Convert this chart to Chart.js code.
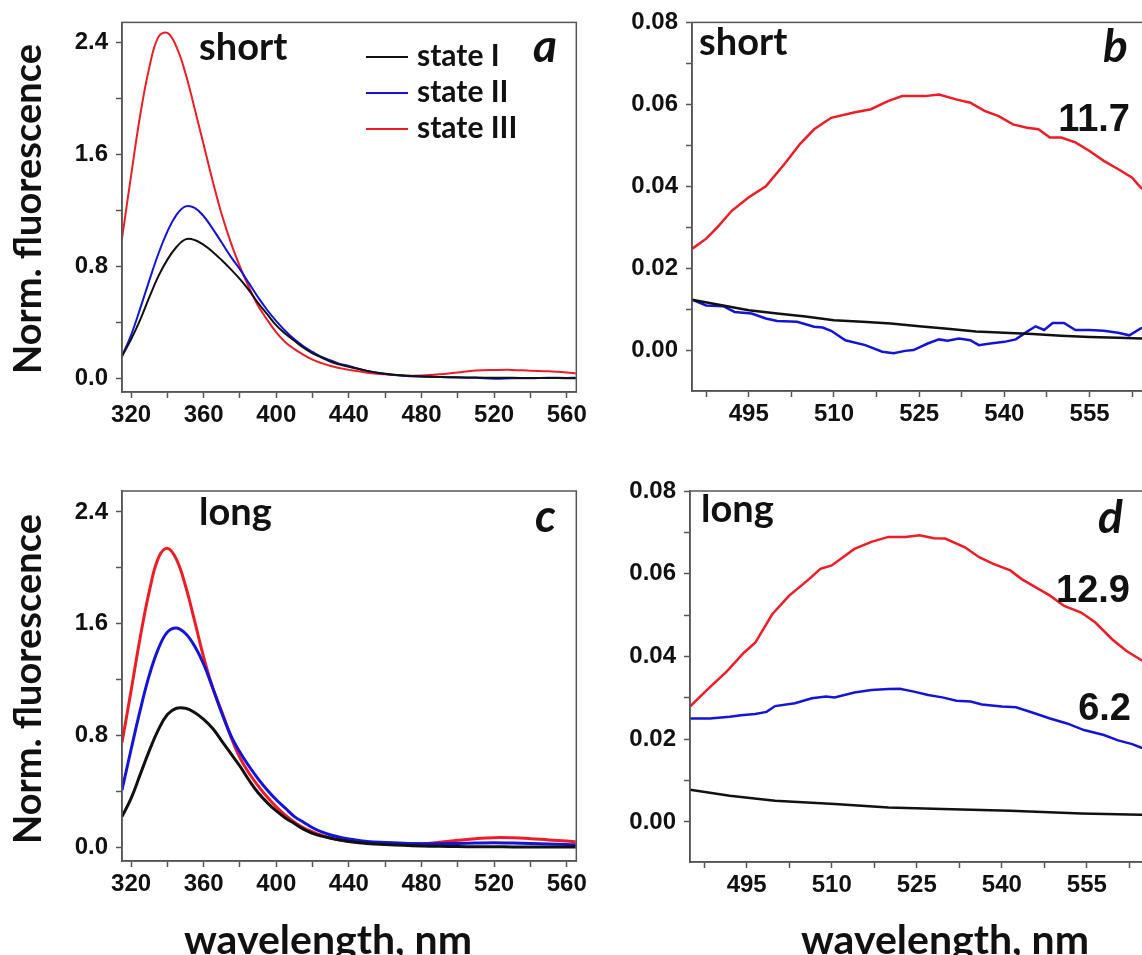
<!DOCTYPE html>
<html lang="en">
<head>
  <meta charset="UTF-8" />
  <title>Fluorescence spectra</title>
  <script src="https://cdn.jsdelivr.net/npm/chart.js"></script>
  <style>
    html, body {
      margin: 0;
      padding: 0;
      background: #fff;
      width: 1142px;
      height: 955px;
      overflow: hidden;
      position: relative;
    }
    canvas {
      position: absolute;
    }
  </style>
</head>
<body>

  <canvas id="chartA" width="590" height="460" style="left:0;top:0;width:590px;height:460px"></canvas>
  <canvas id="chartB" width="570" height="460" style="left:590px;top:0;width:570px;height:460px"></canvas>
  <canvas id="chartC" width="590" height="520" style="left:0;top:460px;width:590px;height:520px"></canvas>
  <canvas id="chartD" width="570" height="520" style="left:590px;top:460px;width:570px;height:520px"></canvas>

<script>
  // ---- data: full spectra (panels a and c) ----
  const waveFull = [315, 320, 325, 330, 335, 340, 345, 350, 355, 360, 365, 370, 375, 380, 385, 390, 395, 400,
    405, 410, 415, 420, 425, 430, 435, 440, 450, 460, 470, 480, 490, 500, 510, 520, 530, 540, 550, 560, 565];

  // short, state I / II / III
  const shortState1 = [0.16, 0.28, 0.42, 0.58, 0.73, 0.85, 0.94, 0.995, 0.99, 0.955, 0.905, 0.845, 0.78, 0.71, 0.63, 0.54, 0.46, 0.38,
    0.32, 0.27, 0.22, 0.18, 0.15, 0.12, 0.10, 0.085, 0.055, 0.035, 0.022, 0.015, 0.011, 0.009, 0.007, 0.0065, 0.005, 0.004, 0.0035, 0.003, 0.003];
  const shortState2 = [0.16, 0.31, 0.50, 0.70, 0.89, 1.05, 1.17, 1.23, 1.22, 1.16, 1.07, 0.97, 0.87, 0.78, 0.68, 0.58, 0.49, 0.41,
    0.34, 0.28, 0.23, 0.19, 0.155, 0.13, 0.105, 0.09, 0.055, 0.033, 0.02, 0.014, 0.011, 0.007, 0.005, -0.001, 0.002, 0.002, 0.006, 0.004, 0.006];
  const shortState3 = [1.00, 1.45, 1.88, 2.22, 2.44, 2.47, 2.37, 2.18, 1.93, 1.67, 1.41, 1.17, 0.97, 0.80, 0.65, 0.52, 0.42, 0.33,
    0.26, 0.21, 0.17, 0.135, 0.11, 0.09, 0.075, 0.062, 0.042, 0.03, 0.022, 0.022, 0.03, 0.044, 0.057, 0.061, 0.062, 0.056, 0.052, 0.044, 0.038];

  // long, state I / II / III
  const longState1 = [0.22, 0.35, 0.52, 0.69, 0.84, 0.95, 0.995, 0.995, 0.965, 0.915, 0.85, 0.76, 0.67, 0.58, 0.48, 0.39, 0.32, 0.26,
    0.21, 0.17, 0.13, 0.10, 0.08, 0.065, 0.052, 0.042, 0.028, 0.02, 0.014, 0.01, 0.0068, 0.0052, 0.0043, 0.0035, 0.003, 0.0027, 0.0022, 0.0018, 0.0017];
  const longState2 = [0.41, 0.70, 0.98, 1.23, 1.42, 1.54, 1.57, 1.53, 1.44, 1.31, 1.14, 0.96, 0.80, 0.68, 0.58, 0.49, 0.41, 0.34,
    0.28, 0.22, 0.18, 0.14, 0.11, 0.088, 0.072, 0.06, 0.042, 0.034, 0.029, 0.026, 0.026, 0.028, 0.030, 0.032, 0.030, 0.028, 0.024, 0.020, 0.018];
  const longState3 = [0.75, 1.12, 1.50, 1.83, 2.07, 2.14, 2.06, 1.87, 1.62, 1.36, 1.14, 0.97, 0.79, 0.64, 0.53, 0.44, 0.36, 0.29,
    0.23, 0.18, 0.14, 0.11, 0.085, 0.066, 0.052, 0.042, 0.03, 0.024, 0.022, 0.025, 0.036, 0.05, 0.062, 0.069, 0.068, 0.062, 0.053, 0.045, 0.040];

  // ---- data: zoomed 485-567 nm (panels b and d) ----
  const bWave1 = [485, 490, 495, 500, 505, 510, 515, 520, 525, 530, 535, 540, 545, 550, 555, 560, 567];
  const bState1 = [0.0123, 0.011, 0.0097, 0.0089, 0.0082, 0.0073, 0.0069, 0.0065, 0.0058, 0.0052, 0.0045, 0.0042, 0.0039, 0.0035, 0.0032, 0.003, 0.0027];
  const bWave2 = [485, 487.5, 490.5, 492.5, 495.5, 498, 500, 503.5, 506.5, 508, 509.5, 512, 515.5, 518.5, 520.5, 522.5, 524, 526.5,
    528.5, 530, 532, 534, 535.5, 537.5, 540, 542, 544, 545.5, 547, 548.5, 550.5, 552.5, 555, 557.5, 560, 562, 564, 567];
  const bState2 = [0.0123, 0.0109, 0.0107, 0.0093, 0.0089, 0.0077, 0.0071, 0.0069, 0.0057, 0.0055, 0.0047, 0.0024, 0.0012, -0.0004, -0.0008, -0.0002, 0.0, 0.0016,
    0.0026, 0.0023, 0.0028, 0.0024, 0.0012, 0.0016, 0.002, 0.0026, 0.0045, 0.0058, 0.0049, 0.0066, 0.0066, 0.0049, 0.0049, 0.0047, 0.0042, 0.0036, 0.0053, 0.0062];
  const bWave3 = [485, 487.5, 489.5, 492, 495, 498, 501.5, 504, 506.5, 509.5, 513.5, 516.5, 519.5, 522, 526, 528.5, 531.5, 534,
    536.5, 539, 541.5, 544, 546, 548, 550, 552.5, 555, 557.5, 560, 562.5, 564, 567];
  const bState3 = [0.0247, 0.0272, 0.030, 0.034, 0.0373, 0.040, 0.0458, 0.0503, 0.0539, 0.0567, 0.058, 0.0588, 0.0608, 0.062, 0.062, 0.0624, 0.0612, 0.0604,
    0.0584, 0.0571, 0.0551, 0.0543, 0.0539, 0.0519, 0.0519, 0.0507, 0.0486, 0.0462, 0.0442, 0.0421, 0.0397, 0.037];

  const dWave1 = [485, 492, 500, 510.5, 520, 529.5, 541.5, 554, 564.5, 568];
  const dState1 = [0.0078, 0.0063, 0.0051, 0.0043, 0.0035, 0.0031, 0.0027, 0.002, 0.0017, 0.0016];
  const dWave2 = [485, 488.5, 492, 494, 496.5, 498.5, 500, 503.5, 506.5, 509, 510.5, 514, 517, 520, 522, 524.5, 527, 529.5,
    532, 534.5, 536.5, 540, 542.5, 545.5, 548.5, 551.5, 554.5, 558, 560.5, 563, 564.5, 568];
  const dState2 = [0.025, 0.025, 0.0254, 0.0258, 0.0261, 0.0266, 0.028, 0.0287, 0.0299, 0.0303, 0.0301, 0.0313, 0.0319, 0.0321, 0.0322, 0.0315, 0.0307, 0.0301,
    0.0293, 0.0291, 0.0284, 0.0279, 0.0277, 0.0264, 0.025, 0.0238, 0.0222, 0.021, 0.0197, 0.0188, 0.018, 0.0172];
  const dWave3 = [485, 488, 491.5, 494.5, 496.5, 499.5, 502.5, 506, 508, 510, 514, 517, 520, 523, 525.5, 528, 530, 533.5,
    536, 538.5, 541.5, 543.5, 546, 548.5, 551, 554, 556.5, 559.5, 562, 564.5, 568];
  const dState3 = [0.0279, 0.0319, 0.0364, 0.0409, 0.0433, 0.0502, 0.0547, 0.0587, 0.0612, 0.062, 0.066, 0.0677, 0.0689, 0.0689, 0.0693, 0.0686, 0.0685, 0.0664,
    0.064, 0.0624, 0.0608, 0.0587, 0.0567, 0.0547, 0.0522, 0.0506, 0.0482, 0.0441, 0.0413, 0.0392, 0.0365];

  // ---- tick labels ----
  const xTicksFull = [320, 360, 400, 440, 480, 520, 560];
  const xMinorFull = [340, 380, 420, 460, 500, 540];
  const yTicksFull = [0, 0.8, 1.6, 2.4];
  const yMinorFull = [0.4, 1.2, 2.0];
  const xTicksZoom = [495, 510, 525, 540, 555];
  const xMinorZoom = [487.5, 502.5, 517.5, 532.5, 547.5, 562.5];
  const yTicksZoom = [0, 0.02, 0.04, 0.06, 0.08];
  const yMinorZoom = [0.01, 0.03, 0.05, 0.07];

  const seriesLabels = ['state I', 'state II', 'state III'];
  const seriesColors = ['#111111', '#1414d8', '#ee1c24'];

  const axisColor = '#555';
  const tickFont = { family: 'Liberation Sans', size: 24, weight: 'bold' };
  const labelFont = 'Lato';

  function pts(xs, ys) {
    return xs.map((x, i) => ({ x: x, y: ys[i] }));
  }

  // frame, free text and legend drawn on top of the chart
  const panelText = {
    id: 'panelText',
    afterDraw(chart, args, opts) {
      const ctx = chart.ctx;
      const a = chart.chartArea;
      ctx.save();
      ctx.strokeStyle = axisColor;
      ctx.lineWidth = 1.5;
      ctx.strokeRect(a.left, a.top, a.right - a.left, a.bottom - a.top);
      ctx.fillStyle = '#111';
      (opts.items || []).forEach(it => {
        ctx.save();
        ctx.font = it.font;
        ctx.textAlign = it.align || 'left';
        ctx.textBaseline = it.baseline || 'alphabetic';
        ctx.translate(it.x, it.y);
        if (it.rotate) ctx.rotate(it.rotate);
        ctx.fillText(it.text, 0, 0);
        ctx.restore();
      });
      const lg = opts.legend;
      if (lg) {
        chart.data.datasets.forEach((ds, i) => {
          const y = lg.y + i * lg.dy;
          ctx.strokeStyle = ds.borderColor;
          ctx.lineWidth = 2;
          ctx.beginPath();
          ctx.moveTo(lg.x, y);
          ctx.lineTo(lg.x + lg.len, y);
          ctx.stroke();
          ctx.font = lg.font;
          ctx.textAlign = 'left';
          ctx.textBaseline = 'alphabetic';
          ctx.fillText(ds.label, lg.x + lg.len + lg.gap, y + lg.textDy);
        });
      }
      ctx.restore();
    }
  };

  function makeChart(id, cfg) {
    const datasets = cfg.series.map((s, i) => ({
      label: seriesLabels[i],
      data: s,
      borderColor: seriesColors[i],
      borderWidth: cfg.lineWidth,
      pointRadius: 0,
      fill: false,
      tension: cfg.smooth ? 0.4 : 0
    }));
    return new Chart(document.getElementById(id), {
      type: 'line',
      data: { datasets: datasets },
      options: {
        responsive: false,
        animation: false,
        layout: { padding: cfg.padding },
        plugins: {
          legend: { display: false },
          tooltip: { enabled: false },
          panelText: { items: cfg.items, legend: cfg.legend }
        },
        scales: {
          x: {
            type: 'linear',
            min: cfg.xMin,
            max: cfg.xMax,
            afterFit: s => { s.height = cfg.xHeight; },
            afterBuildTicks: s => {
              s.ticks = cfg.xTicks.concat(cfg.xMinor).sort((p, q) => p - q).map(v => ({ value: v }));
            },
            ticks: {
              autoSkip: false,
              maxRotation: 0,
              padding: 3,
              color: '#111',
              font: tickFont,
              callback: v => cfg.xTicks.includes(v) ? String(v) : ''
            },
            grid: { drawOnChartArea: false, drawTicks: true, tickLength: 6, tickColor: axisColor, tickWidth: 1.5 },
            border: { display: true, color: axisColor, width: 1.5 }
          },
          y: {
            type: 'linear',
            min: cfg.yMin,
            max: cfg.yMax,
            afterFit: s => { s.width = cfg.yWidth; },
            afterBuildTicks: s => {
              s.ticks = cfg.yTicks.concat(cfg.yMinor).sort((p, q) => p - q).map(v => ({ value: v }));
            },
            ticks: {
              autoSkip: false,
              padding: 8,
              color: '#111',
              font: tickFont,
              callback: v => cfg.yTicks.includes(v) ? v.toFixed(cfg.yDigits) : ''
            },
            grid: { drawOnChartArea: false, drawTicks: true, tickLength: 6, tickColor: axisColor, tickWidth: 1.5 },
            border: { display: true, color: axisColor, width: 1.5 }
          }
        }
      },
      plugins: [panelText]
    });
  }

  const yTitle = 'Norm. fluorescence';
  const xTitle = 'wavelength, nm';
  const yTitleFont = 'bold 38px ' + labelFont;
  const xTitleFont = 'bold 41px ' + labelFont;
  const tagFont = 'bold 38px ' + labelFont;
  const letterFont = 'italic bold 46px ' + labelFont;
  const numFont = 'bold 38px Liberation Sans';

  // a: short, full range
  makeChart('chartA', {
    series: [pts(waveFull, shortState1), pts(waveFull, shortState2), pts(waveFull, shortState3)],
    smooth: true, lineWidth: 2,
    padding: { left: 0, top: 21, right: 13, bottom: 0 },
    yWidth: 122, xHeight: 68,
    xMin: 315, xMax: 565.3, yMin: -0.096, yMax: 2.545,
    xTicks: xTicksFull, xMinor: xMinorFull, yTicks: yTicksFull, yMinor: yMinorFull, yDigits: 1,
    items: [
      { text: yTitle, x: 29, y: 209, font: yTitleFont, align: 'center', baseline: 'middle', rotate: -Math.PI / 2 },
      { text: 'short', x: 199, y: 60, font: tagFont },
      { text: 'a', x: 533, y: 62, font: letterFont }
    ],
    legend: { x: 366, y: 57, dy: 36, len: 42, gap: 9, textDy: 9, font: 'bold 30px ' + labelFont }
  });

  // b: short, 485-567 nm
  makeChart('chartB', {
    series: [pts(bWave1, bState1), pts(bWave2, bState2), pts(bWave3, bState3)],
    smooth: false, lineWidth: 2.5,
    padding: { left: 0, top: 21, right: 0, bottom: 0 },
    yWidth: 102, xHeight: 69,
    xMin: 485, xMax: 567.4, yMin: -0.01, yMax: 0.08,
    xTicks: xTicksZoom, xMinor: xMinorZoom, yTicks: yTicksZoom, yMinor: yMinorZoom, yDigits: 2,
    items: [
      { text: 'short', x: 109, y: 55, font: tagFont },
      { text: 'b', x: 513, y: 62, font: letterFont },
      { text: '11.7', x: 540, y: 131, font: numFont, align: 'right' }
    ]
  });

  // c: long, full range
  makeChart('chartC', {
    series: [pts(waveFull, longState1), pts(waveFull, longState2), pts(waveFull, longState3)],
    smooth: true, lineWidth: 3,
    padding: { left: 0, top: 31, right: 13, bottom: 0 },
    yWidth: 122, xHeight: 119,
    xMin: 315, xMax: 565.3, yMin: -0.098, yMax: 2.55,
    xTicks: xTicksFull, xMinor: xMinorFull, yTicks: yTicksFull, yMinor: yMinorFull, yDigits: 1,
    items: [
      { text: yTitle, x: 29, y: 219, font: yTitleFont, align: 'center', baseline: 'middle', rotate: -Math.PI / 2 },
      { text: 'long', x: 199, y: 65, font: tagFont },
      { text: 'c', x: 535, y: 72, font: letterFont },
      { text: xTitle, x: 328, y: 494, font: xTitleFont, align: 'center' }
    ]
  });

  // d: long, 485-568 nm
  makeChart('chartD', {
    series: [pts(dWave1, dState1), pts(dWave2, dState2), pts(dWave3, dState3)],
    smooth: false, lineWidth: 2.5,
    padding: { left: 0, top: 31, right: 0, bottom: 0 },
    yWidth: 100, xHeight: 118,
    xMin: 485, xMax: 567.9, yMin: -0.0097, yMax: 0.08,
    xTicks: xTicksZoom, xMinor: xMinorZoom, yTicks: yTicksZoom, yMinor: yMinorZoom, yDigits: 2,
    items: [
      { text: 'long', x: 111, y: 62, font: tagFont },
      { text: 'd', x: 508, y: 73, font: letterFont },
      { text: '12.9', x: 540, y: 142, font: numFont, align: 'right' },
      { text: '6.2', x: 541, y: 260, font: numFont, align: 'right' },
      { text: xTitle, x: 355, y: 494, font: xTitleFont, align: 'center' }
    ]
  });
</script>

</body>
</html>
